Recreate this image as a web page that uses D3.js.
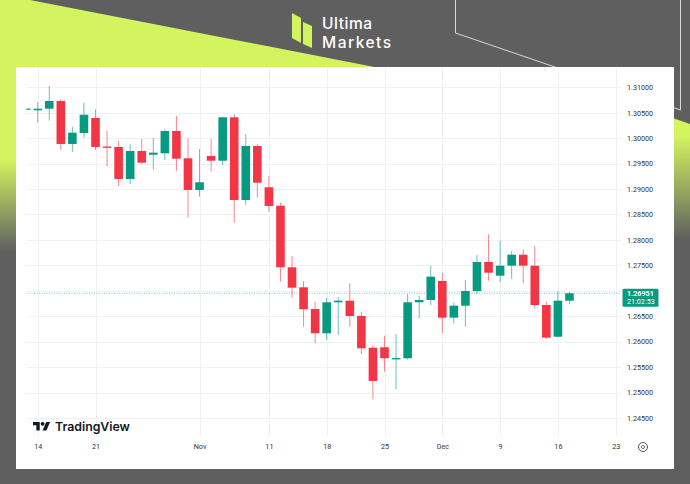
<!DOCTYPE html>
<html><head><meta charset="utf-8">
<script src="https://cdn.jsdelivr.net/npm/d3@7"></script>
<style>html,body{margin:0;padding:0;background:#5f5f5f;overflow:hidden}</style>
</head><body><svg id="c" width="690" height="484"></svg>
<script>
// ---- data (GBP/USD daily) ----
const dates = ["2024-10-11","2024-10-14","2024-10-15","2024-10-16","2024-10-17","2024-10-18",
"2024-10-21","2024-10-22","2024-10-23","2024-10-24","2024-10-25",
"2024-10-28","2024-10-29","2024-10-30","2024-10-31","2024-11-01",
"2024-11-04","2024-11-05","2024-11-06","2024-11-07","2024-11-08",
"2024-11-11","2024-11-12","2024-11-13","2024-11-14","2024-11-15",
"2024-11-18","2024-11-19","2024-11-20","2024-11-21","2024-11-22",
"2024-11-25","2024-11-26","2024-11-27","2024-11-28","2024-11-29",
"2024-12-02","2024-12-03","2024-12-04","2024-12-05","2024-12-06",
"2024-12-09","2024-12-10","2024-12-11","2024-12-12","2024-12-13",
"2024-12-16","2024-12-17"];
const opens = [1.30578,1.30548,1.30579,1.30731,1.29886,1.30102,
1.30397,1.29836,1.29827,1.29198,1.29748,
1.29675,1.29703,1.30141,1.29605,1.28982,
1.29650,1.29557,1.30410,1.28785,1.29846,
1.29035,1.28673,1.27462,1.27069,1.26643,
1.26165,1.26774,1.26806,1.26505,1.25882,
1.25890,1.25670,1.25674,1.26774,1.26820,
1.27193,1.26472,1.26708,1.26996,1.27566,
1.27297,1.27494,1.27710,1.27494,1.26721,
1.26098,1.26806];
const highs = [1.30590,1.30711,1.31026,1.30764,1.30226,1.30697,
1.30568,1.30147,1.29945,1.29880,1.29984,
1.30009,1.30175,1.30442,1.29998,1.29787,
1.29984,1.30422,1.30475,1.30082,1.29886,
1.29257,1.28732,1.27684,1.27193,1.26786,
1.26865,1.26873,1.27148,1.26590,1.25929,
1.26118,1.26151,1.26938,1.26898,1.27494,
1.27356,1.26774,1.27213,1.27704,1.28111,
1.27985,1.27783,1.27816,1.27881,1.26786,
1.26996,1.26983];
const lows = [1.30570,1.30304,1.30344,1.29768,1.29734,1.30009,
1.29768,1.29440,1.29060,1.29094,1.29500,
1.29388,1.29571,1.29355,1.28437,1.28850,
1.29341,1.29473,1.28339,1.28687,1.28830,
1.28555,1.27179,1.26865,1.26295,1.25969,
1.26033,1.26132,1.26295,1.25758,1.24868,
1.25410,1.25064,1.25654,1.26460,1.26721,
1.26165,1.26362,1.26295,1.26932,1.27199,
1.27167,1.27232,1.27148,1.26656,1.26053,
1.26087,1.26735];
const closes = [1.30582,1.30579,1.30731,1.29886,1.30108,1.30461,
1.29827,1.29830,1.29198,1.29748,1.29518,
1.29715,1.30141,1.29597,1.28982,1.29133,
1.29557,1.30410,1.28785,1.29846,1.29125,
1.28667,1.27462,1.27061,1.26637,1.26165,
1.26774,1.26806,1.26505,1.25870,1.25228,
1.25674,1.25678,1.26774,1.26820,1.27278,
1.26472,1.26708,1.26996,1.27566,1.27356,
1.27494,1.27710,1.27494,1.26721,1.26079,
1.26806,1.26951];
const gridPrices = [1.31,1.305,1.30,1.295,1.29,1.285,1.28,1.275,1.27,1.265,1.26,1.255,1.25,1.245];
// 1.27000 label is hidden behind the last-price tag in the reference
const priceLabels = [1.31,1.305,1.30,1.295,1.29,1.285,1.28,1.275,1.265,1.26,1.255,1.25,1.245];
const timeTickDates = ["2024-10-14","2024-10-21","2024-11-01","2024-11-11","2024-11-18","2024-11-25","2024-12-02","2024-12-09","2024-12-16","2024-12-23"];
const timeTickLabels = ["14","21","Nov","11","18","25","Dec","9","16","23"];
const lastPrice = 1.26951;
const countdown = "21:02:53";

// ---- colours ----
const UP = "#089981", DOWN = "#f23645", LIME = "#d3f35f", GREY = "#5f5f5f";

const svg = d3.select("#c");
const defs = svg.append("defs");

// background
svg.append("rect").attr("width",690).attr("height",484).attr("fill",GREY);
const g1 = defs.append("linearGradient").attr("id","gl")
  .attr("gradientUnits","userSpaceOnUse").attr("x1",0).attr("y1",0).attr("x2",0).attr("y2",484);
g1.append("stop").attr("offset",0).attr("stop-color",LIME);
g1.append("stop").attr("offset",0.33).attr("stop-color",LIME);
g1.append("stop").attr("offset",0.52).attr("stop-color",GREY);
svg.append("path").attr("d","M0,0 L30,0 L400,72 L400,484 L0,484 Z").attr("fill","url(#gl)");
const g2 = defs.append("linearGradient").attr("id","gr").attr("gradientUnits","userSpaceOnUse")
  .attr("x1",0).attr("y1",118).attr("x2",0).attr("y2",240);
g2.append("stop").attr("offset",0).attr("stop-color",LIME);
g2.append("stop").attr("offset",0.15).attr("stop-color",LIME);
g2.append("stop").attr("offset",1).attr("stop-color",GREY);
svg.append("path").attr("d","M600,93 L690,124 L690,484 L600,484 Z").attr("fill","url(#gr)");
svg.append("path").attr("d","M455.5,0 L455.5,33 L680.5,110 L680.5,0").attr("fill","none")
  .attr("stroke","#d8d8d8").attr("stroke-width",1);

// logo
svg.append("path").attr("d","M292,13 L301,18 L301,43 L292,38 Z").attr("fill",LIME);
svg.append("path").attr("d","M303,22 L312,26 L312,48 L303,44 Z").attr("fill",LIME);
svg.append("text").attr("x",322).attr("y",29).attr("fill","#fff").attr("font-family","Inter, Roboto, sans-serif")
  .attr("font-size",15.5).attr("font-weight",500).attr("textLength",50).text("Ultima");
svg.append("text").attr("x",322).attr("y",47.5).attr("fill","#fff").attr("font-family","Inter, Roboto, sans-serif")
  .attr("font-size",15.5).attr("font-weight",500).attr("textLength",69).text("Markets");

// white panel
svg.append("rect").attr("x",16).attr("y",67).attr("width",658).attr("height",402).attr("fill","#fff");

// scales
const tradingDays = d3.timeDay.range(new Date(2024,9,11), new Date(2024,11,24))
  .filter(d => d.getDay() !== 0 && d.getDay() !== 6).map(d3.timeFormat("%Y-%m-%d"));
const x = d3.scalePoint().domain(tradingDays).range([26.14, 615.7]);
const y = d3.scaleLinear().domain([1.245, 1.31]).range([418.0, 87.3]);
const plotL = 26.5, plotR = 621, plotT = 68, plotB = 437;
const bw = 8.6;

// grid
svg.append("g").selectAll("line").data(gridPrices).join("line")
  .attr("x1",plotL).attr("x2",plotR).attr("y1",d=>Math.round(y(d))+0.5).attr("y2",d=>Math.round(y(d))+0.5)
  .attr("stroke","#f0f1f4").attr("stroke-width",1);
svg.append("g").selectAll("line").data(timeTickDates).join("line")
  .attr("y1",plotT).attr("y2",plotB).attr("x1",d=>Math.round(x(d))+0.5).attr("x2",d=>Math.round(x(d))+0.5)
  .attr("stroke","#f0f1f4").attr("stroke-width",1);

// candles
defs.append("clipPath").attr("id","plot").append("rect")
  .attr("x",plotL).attr("y",plotT).attr("width",plotR-plotL).attr("height",plotB-plotT);
const candles = dates.map((d,i)=>({d, o:opens[i], h:highs[i], l:lows[i], c:closes[i]}));
const cg = svg.append("g").attr("clip-path","url(#plot)");
cg.selectAll("line.w").data(candles).join("line").attr("class","w")
  .attr("x1",d=>x(d.d)).attr("x2",d=>x(d.d)).attr("y1",d=>y(d.h)).attr("y2",d=>y(d.l))
  .attr("stroke",d=>d.c>=d.o?UP:DOWN).attr("stroke-opacity",0.6).attr("stroke-width",1);
cg.selectAll("rect.b").data(candles).join("rect").attr("class","b")
  .attr("x",d=>x(d.d)-bw/2).attr("width",bw)
  .attr("y",d=>y(Math.max(d.o,d.c)))
  .attr("height",d=>Math.max(1.3, Math.abs(y(d.o)-y(d.c))))
  .attr("fill",d=>d.c>=d.o?UP:DOWN);

// last price dotted line
svg.append("line").attr("x1",plotL).attr("x2",plotR).attr("y1",y(lastPrice)).attr("y2",y(lastPrice))
  .attr("stroke",UP).attr("stroke-opacity",0.5).attr("stroke-dasharray","1,1.5").attr("stroke-width",1);

// price axis
const ya = svg.append("g").attr("transform","translate(627,0)")
  .call(d3.axisRight(y).tickValues(priceLabels).tickFormat(d3.format(".5f")).tickSize(0).tickPadding(0));
ya.select(".domain").remove();
ya.selectAll("text").attr("font-family","Roboto, 'DejaVu Sans', sans-serif").attr("font-size",7.2).attr("fill","#333");

// last price label
const ly = y(lastPrice);
svg.append("rect").attr("x",622.5).attr("y",ly-4.5).attr("width",36).attr("height",18).attr("rx",1.5).attr("fill",UP);
svg.append("text").attr("x",627).attr("y",ly+2.5).attr("fill","#fff").attr("font-family","Roboto, sans-serif")
  .attr("font-size",7.2).attr("font-weight",700).text(d3.format(".5f")(lastPrice));
svg.append("text").attr("x",627).attr("y",ly+11).attr("fill","#fff").attr("font-family","Roboto, sans-serif")
  .attr("font-size",7.2).text(countdown);

// time axis
const xa = svg.append("g").attr("transform","translate(0,444)")
  .call(d3.axisBottom(x).tickValues(timeTickDates).tickFormat((d,i)=>timeTickLabels[i]).tickSize(0).tickPadding(0));
xa.select(".domain").remove();
xa.selectAll("text").attr("font-family","Roboto, 'DejaVu Sans', sans-serif").attr("font-size",7.2).attr("fill","#333");

// settings icon
svg.append("circle").attr("cx",643).attr("cy",447).attr("r",4.5).attr("fill","none").attr("stroke","#555").attr("stroke-width",1);
svg.append("circle").attr("cx",643).attr("cy",447).attr("r",1.6).attr("fill","none").attr("stroke","#555").attr("stroke-width",0.8);

// TradingView watermark
const tv = svg.append("g").attr("transform","translate(33,420) scale(0.48)");
tv.append("path").attr("d","M14 22H7V11H0V4h14v18zM28 22h-8l7.5-18h8L28 22z").attr("fill","#131722");
tv.append("circle").attr("cx",20).attr("cy",8).attr("r",4).attr("fill","#131722");
svg.append("text").attr("x",55).attr("y",431).attr("fill","#131722").attr("font-family","Inter, Roboto, sans-serif")
  .attr("font-size",12.3).attr("font-weight",600).text("TradingView");
</script></body></html>
